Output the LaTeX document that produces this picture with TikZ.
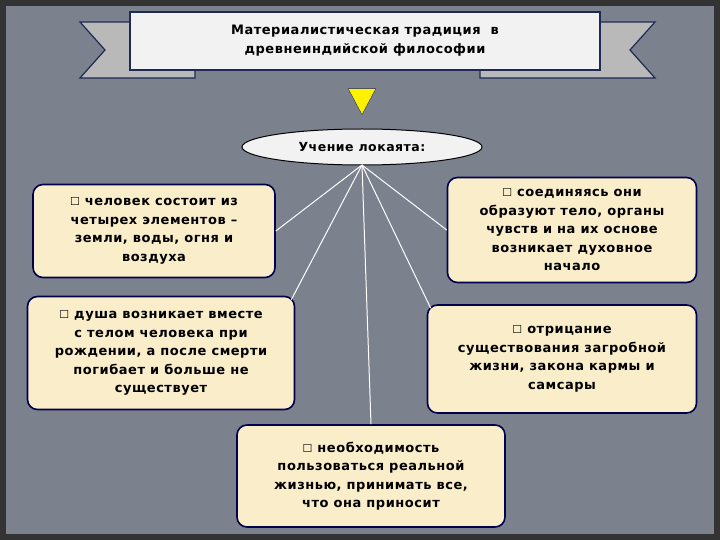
\documentclass[tikz,border=0pt]{standalone}
\usepackage{fontspec}
\setmainfont[LetterSpace=4]{DejaVu Sans}
\usetikzlibrary{shapes.geometric}
\begin{document}
\begin{tikzpicture}[x=1pt,y=-1pt,
  box/.style={draw=black!70!blue,line width=1.6pt,fill=cream,rounded corners=10pt,align=center,font=\bfseries\fontsize{13}{18.5}\selectfont,inner sep=2pt},
  conn/.style={white,line width=1pt}]
\definecolor{cream}{HTML}{FAEDC9}
\definecolor{bg}{HTML}{7C818E}
\definecolor{navy}{HTML}{1E2A55}
\fill[black!80] (0,0) rectangle (720,540);
\fill[bg] (6,6) rectangle (714,534);
\useasboundingbox (0,0) rectangle (720,540);
% banner tails
\draw[navy,line width=1.2pt,fill=gray!55] (132,22) -- (80,22) -- (105,50) -- (80,78) -- (195,78) -- (195,70) -- (132,70) -- cycle;
\draw[navy,line width=1.2pt,fill=gray!55] (598,22) -- (655,22) -- (630,50) -- (655,78) -- (480,78) -- (480,70) -- (598,70) -- cycle;
\node[draw=navy,line width=1.5pt,fill=gray!10,minimum width=470pt,minimum height=58pt,align=center,font=\bfseries\fontsize{13}{19}\selectfont] (title) at (365,41) {Материалистическая традиция \ в\\древнеиндийской философии};
\node[draw=navy,fill=yellow,isosceles triangle,shape border rotate=-90,isosceles triangle apex angle=56,minimum height=26pt,inner sep=0pt] (tri) at (362,97) {};
\node[draw=black,line width=1pt,fill=gray!10,ellipse,minimum width=240pt,minimum height=36pt,font=\bfseries\fontsize{12.5}{14}\selectfont] (e) at (362,147) {Учение локаята:};
\def\bul{{\fontsize{11}{11}\selectfont☐}\ }
\node[box,minimum width=242pt,minimum height=93pt] (b1) at (154,231) {\bul человек состоит из\\четырех элементов –\\земли, воды, огня и\\воздуха};
\node[box,minimum width=249pt,minimum height=105pt] (b2) at (572,230) {\bul соединяясь они\\образуют тело, органы\\чувств и на их основе\\возникает духовное\\начало};
\node[box,minimum width=267pt,minimum height=113pt] (b3) at (161,353) {\bul душа возникает вместе\\с телом человека при\\рождении, а после смерти\\погибает и больше не\\существует};
\node[box,minimum width=269pt,minimum height=108pt] (b4) at (562,359) {\bul отрицание\\существования загробной\\жизни, закона кармы и\\самсары};
\node[box,minimum width=268pt,minimum height=102pt] (b5) at (371,476) {\bul необходимость\\пользоваться реальной\\жизнью, принимать все,\\что она приносит};
\coordinate (o) at (362,165);
\draw[conn] (o) -- (b1.east);
\draw[conn] (o) -- ([xshift=-4pt,yshift=-4pt]b3.north east);
\draw[conn] (o) -- (b2.west);
\draw[conn] (o) -- ([xshift=4pt,yshift=-4pt]b4.north west);
\draw[conn] (o) -- (b5.north);
\end{tikzpicture}
\end{document}
